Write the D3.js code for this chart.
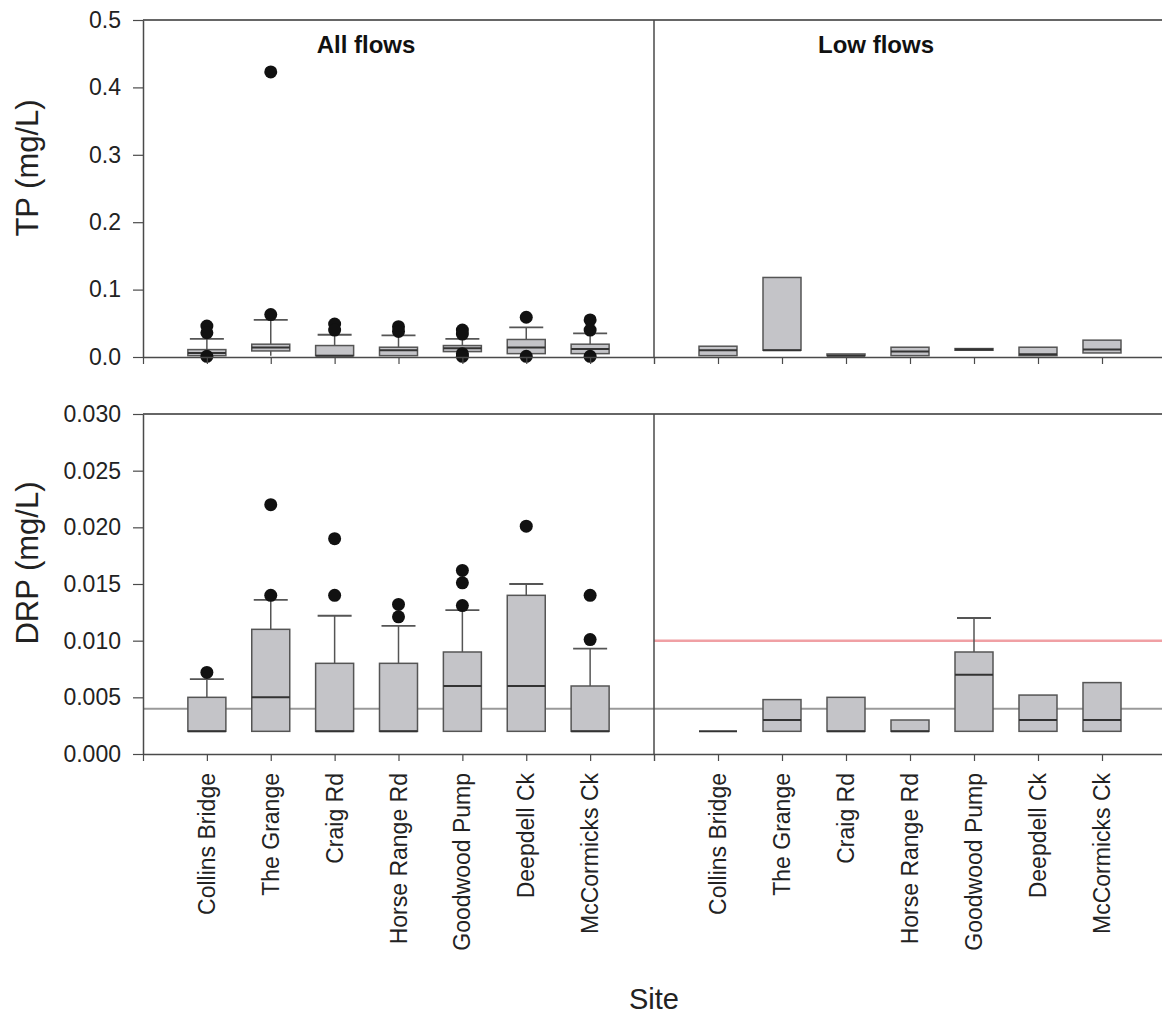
<!DOCTYPE html>
<html><head><meta charset="utf-8">
<script src="https://cdn.jsdelivr.net/npm/d3@7"></script>
<style>
html,body{margin:0;padding:0;background:#fff;}
svg{display:block;font-family:"Liberation Sans",Arial,sans-serif;}
</style></head>
<body><svg id="chart" width="1162" height="1018"></svg>
<script>
// ---------- data ----------
const sites = ["Collins Bridge","The Grange","Craig Rd","Horse Range Rd","Goodwood Pump","Deepdell Ck","McCormicks Ck"];
const panelTitles = ["All flows","Low flows"];
const tpTicks = [0,0.1,0.2,0.3,0.4,0.5];
const drpTicks = [0,0.005,0.010,0.015,0.020,0.025,0.030];

// TP, all flows
const tpAllQ1  = [0.002,0.009,0.002,0.002,0.008,0.005,0.005];
const tpAllMed = [0.006,0.014,0.002,0.010,0.013,0.014,0.012];
const tpAllQ3  = [0.011,0.019,0.017,0.0145,0.017,0.026,0.019];
const tpAllWLo = [0.002,0.002,0.002,0.002,0.008,0.005,0.005];
const tpAllWHi = [0.027,0.055,0.033,0.032,0.027,0.044,0.035];
const tpAllOut = [[0.046,0.036,0.001],[0.063,0.423],[0.049,0.040],[0.045,0.038],[0.040,0.034,0.005,0.001],[0.059,0.001],[0.055,0.040,0.001]];

// TP, low flows
const tpLowQ1  = [0.002,0.010,0.002,0.002,0.010,0.002,0.006];
const tpLowMed = [0.010,0.010,0.002,0.008,0.011,0.004,0.011];
const tpLowQ3  = [0.016,0.118,0.0045,0.0145,0.0125,0.0145,0.025];

// DRP, all flows
const drpAllQ1  = [0.002,0.002,0.002,0.002,0.002,0.002,0.002];
const drpAllMed = [0.002,0.005,0.002,0.002,0.006,0.006,0.002];
const drpAllQ3  = [0.005,0.011,0.008,0.008,0.009,0.014,0.006];
const drpAllWHi = [0.0066,0.0136,0.0122,0.0113,0.0127,0.015,0.0093];
const drpAllOut = [[0.0072],[0.014,0.022],[0.014,0.019],[0.0121,0.0132],[0.0131,0.0151,0.0162],[0.0201],[0.0101,0.014]];

// DRP, low flows
const drpLowQ1  = [0.002,0.002,0.002,0.002,0.002,0.002,0.002];
const drpLowMed = [0.002,0.003,0.002,0.002,0.007,0.003,0.003];
const drpLowQ3  = [0.002,0.0048,0.005,0.003,0.009,0.0052,0.0063];
const drpLowWHi = [0.002,0.0048,0.005,0.003,0.012,0.0052,0.0063];

const drpRefGrey = 0.004;
const drpRefRed = 0.010;

// ---------- layout ----------
const svg = d3.select("#chart");
const X0 = 143, XM = 654, X1 = 1166;
const xL = d3.scaleLinear().domain([0,8]).range([X0,XM]);
const xR = d3.scaleLinear().domain([0,8]).range([XM,X1]);
const yTP = d3.scaleLinear().domain([0,0.5]).range([357,20]);
const yDRP = d3.scaleLinear().domain([0,0.030]).range([754,414]);
const lineCol = "#4a4a4a";
const boxW = 38, capW = 34;

function drawBoxes(xs, ys, q1, med, q3, wLo, wHi, outs){
  const g = svg.append("g");
  sites.forEach((s,i)=>{
    const cx = xs(i+1);
    const gi = g.append("g");
    if (wHi && wHi[i] > q3[i]) {
      gi.append("line").attr("x1",cx).attr("x2",cx).attr("y1",ys(q3[i])).attr("y2",ys(wHi[i]))
        .attr("stroke","#555").attr("stroke-width",1.5);
      gi.append("line").attr("x1",cx-capW/2).attr("x2",cx+capW/2).attr("y1",ys(wHi[i])).attr("y2",ys(wHi[i]))
        .attr("stroke","#555").attr("stroke-width",1.8);
    }
    if (wLo && wLo[i] < q1[i]) {
      gi.append("line").attr("x1",cx).attr("x2",cx).attr("y1",ys(q1[i])).attr("y2",ys(wLo[i]))
        .attr("stroke","#555").attr("stroke-width",1.5);
    }
    const top = ys(q3[i]), bot = ys(q1[i]);
    gi.append("rect").attr("x",cx-boxW/2).attr("width",boxW)
      .attr("y",top).attr("height",Math.max(0,bot-top))
      .attr("fill","#c4c4c8").attr("stroke","#555").attr("stroke-width",1.5);
    gi.append("line").attr("x1",cx-boxW/2).attr("x2",cx+boxW/2).attr("y1",ys(med[i])).attr("y2",ys(med[i]))
      .attr("stroke","#333").attr("stroke-width",2);
    if (outs) {
      gi.selectAll("circle").data(outs[i]).join("circle")
        .attr("cx",cx).attr("cy",d=>ys(d)).attr("r",6.5).attr("fill","#111");
    }
  });
}

// reference lines (DRP)
svg.append("line").attr("x1",X0).attr("x2",X1).attr("y1",yDRP(drpRefGrey)).attr("y2",yDRP(drpRefGrey))
  .attr("stroke","#9a9a9a").attr("stroke-width",2);
svg.append("line").attr("x1",XM).attr("x2",X1).attr("y1",yDRP(drpRefRed)).attr("y2",yDRP(drpRefRed))
  .attr("stroke","#f0a0a4").attr("stroke-width",2.5);

// boxes
drawBoxes(xL, yTP, tpAllQ1, tpAllMed, tpAllQ3, tpAllWLo, tpAllWHi, tpAllOut);
drawBoxes(xR, yTP, tpLowQ1, tpLowMed, tpLowQ3, null, null, null);
drawBoxes(xL, yDRP, drpAllQ1, drpAllMed, drpAllQ3, null, drpAllWHi, drpAllOut);
drawBoxes(xR, yDRP, drpLowQ1, drpLowMed, drpLowQ3, null, drpLowWHi, null);

// frames
function frame(ys){
  const yt = ys.range()[1], yb = ys.range()[0];
  svg.append("line").attr("x1",X0).attr("x2",X1).attr("y1",yt).attr("y2",yt).attr("stroke","#666").attr("stroke-width",2);
  svg.append("line").attr("x1",XM).attr("x2",XM).attr("y1",yt).attr("y2",yb).attr("stroke",lineCol).attr("stroke-width",1.5);
}
frame(yTP); frame(yDRP);

// axes
const xtv = d3.range(0,9);
function xAxes(ys){
  const yb = ys.range()[0];
  [xL,xR].forEach(xs=>{
    const a = svg.append("g").attr("transform",`translate(0,${yb})`)
      .call(d3.axisBottom(xs).tickValues(xtv).tickSize(7).tickSizeOuter(0).tickFormat(""));
    a.select(".domain").attr("stroke",lineCol).attr("stroke-width",1.5);
    a.selectAll(".tick line").attr("stroke",lineCol).attr("stroke-width",1.2);
  });
}
xAxes(yTP); xAxes(yDRP);

function yAxis(ys, ticks, fmt){
  const a = svg.append("g").attr("transform",`translate(${X0},0)`)
    .call(d3.axisLeft(ys).tickValues(ticks).tickSize(10).tickSizeOuter(0).tickPadding(12).tickFormat(d3.format(fmt)));
  a.select(".domain").attr("stroke",lineCol).attr("stroke-width",1.5);
  a.selectAll(".tick line").attr("stroke",lineCol).attr("stroke-width",1.2);
  a.selectAll(".tick text").attr("font-size",23).attr("fill","#222").attr("font-family","Liberation Sans, Arial, sans-serif");
}
yAxis(yTP, tpTicks, ".1f");
yAxis(yDRP, drpTicks, ".3f");

// category labels
[xL,xR].forEach(xs=>{
  sites.forEach((s,i)=>{
    svg.append("text").attr("transform",`translate(${xs(i+1)},773) rotate(-90)`)
      .attr("text-anchor","end").attr("dy","0.35em").attr("font-size",23).attr("fill","#222").text(s);
  });
});

// panel titles
svg.append("text").attr("x",366).attr("y",53).attr("text-anchor","middle").attr("font-weight","bold")
  .attr("font-size",24).attr("fill","#111").text(panelTitles[0]);
svg.append("text").attr("x",876).attr("y",53).attr("text-anchor","middle").attr("font-weight","bold")
  .attr("font-size",24).attr("fill","#111").text(panelTitles[1]);

// axis titles
svg.append("text").attr("transform","translate(27,168) rotate(-90)").attr("text-anchor","middle")
  .attr("dy","0.35em").attr("font-size",31).attr("fill","#222").text("TP (mg/L)");
svg.append("text").attr("transform","translate(27,563) rotate(-90)").attr("text-anchor","middle")
  .attr("dy","0.35em").attr("font-size",31).attr("fill","#222").text("DRP (mg/L)");
svg.append("text").attr("x",654).attr("y",1009).attr("text-anchor","middle")
  .attr("font-size",29).attr("fill","#222").text("Site");
</script>
</body></html>
